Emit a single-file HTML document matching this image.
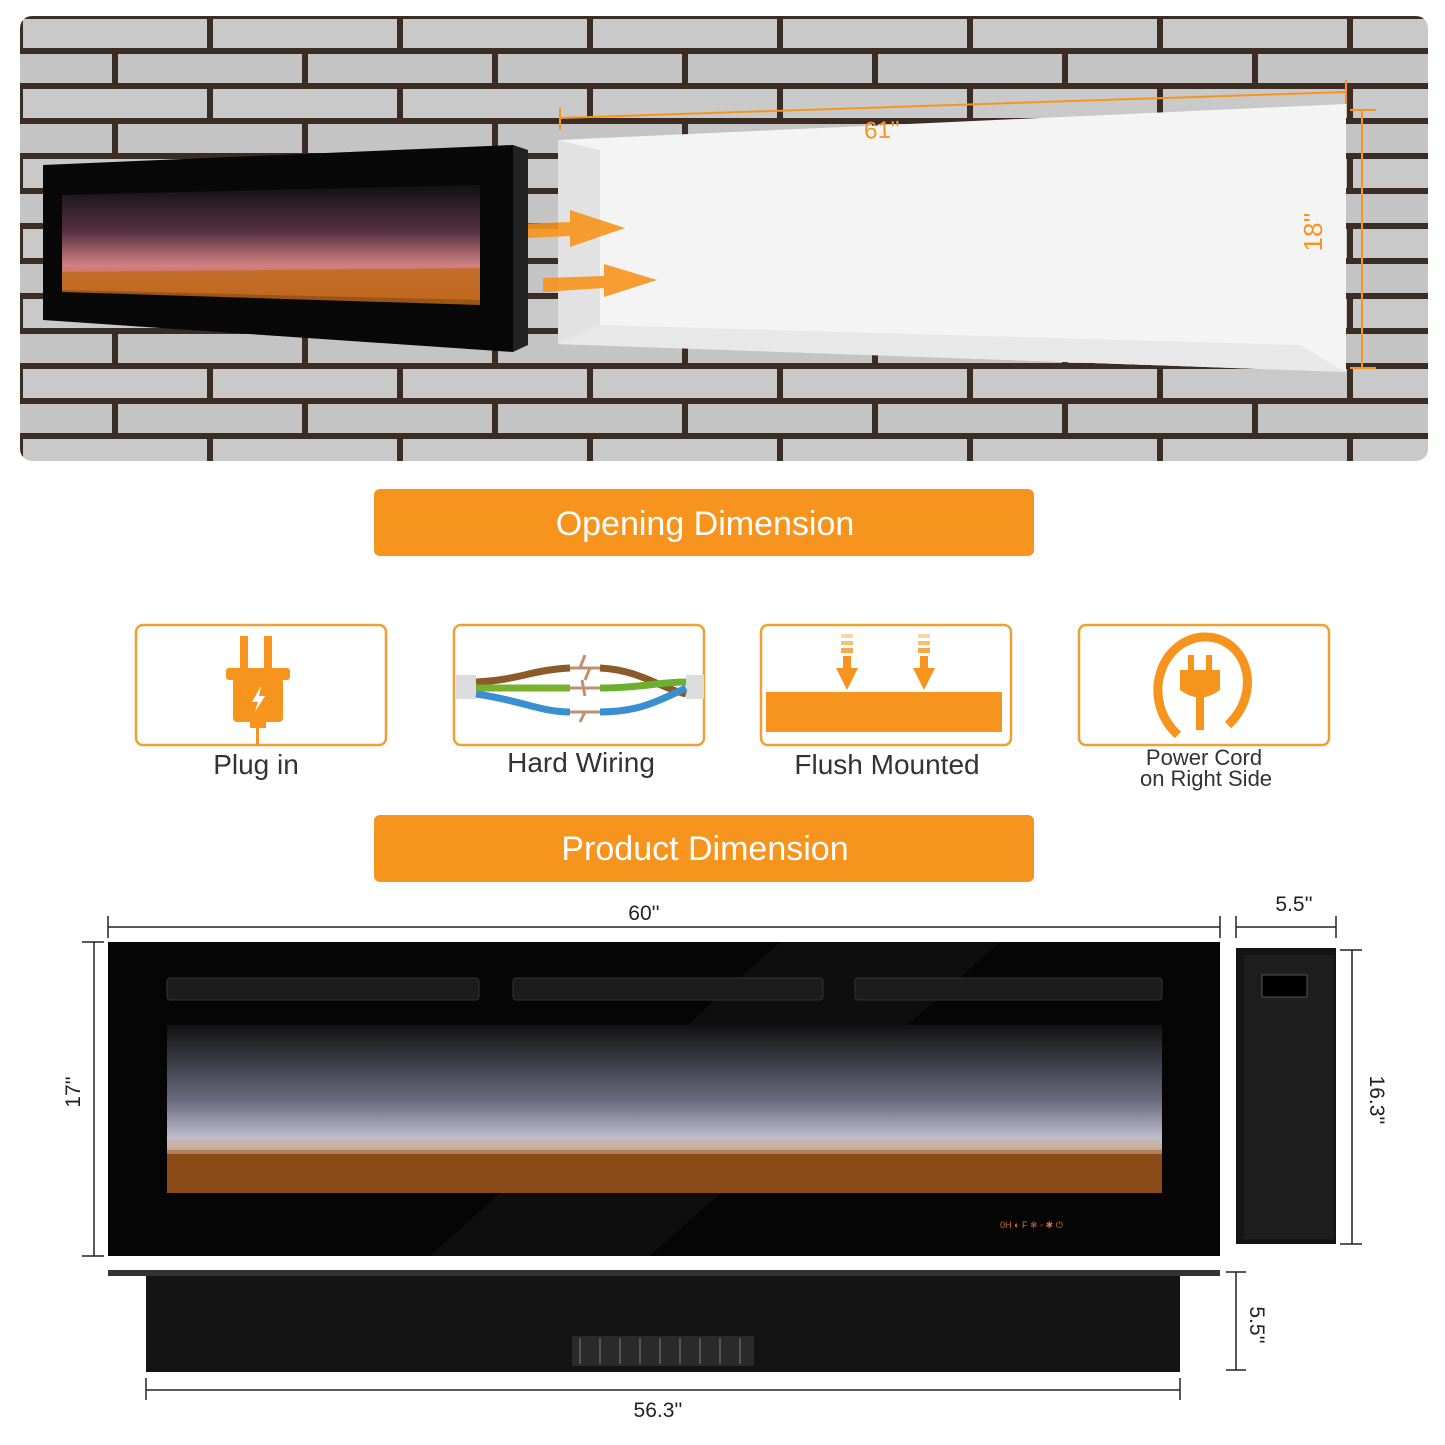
<!DOCTYPE html>
<html><head><meta charset="utf-8"><style>
html,body{margin:0;padding:0;background:#fff;}
svg{display:block;}
text{font-family:"Liberation Sans",sans-serif;}
</style></head><body>
<svg width="1445" height="1445" viewBox="0 0 1445 1445" xmlns="http://www.w3.org/2000/svg">
<defs>
<pattern id="brick" x="20" y="16" width="190" height="70" patternUnits="userSpaceOnUse">
<rect width="190" height="70" fill="#3b2d24"/>
<rect x="3" y="3" width="184" height="29" fill="#c9c9c9"/>
<rect x="-92" y="38" width="184" height="29" fill="#c4c4c4"/>
<rect x="98" y="38" width="184" height="29" fill="#c4c4c4"/>
</pattern>
<clipPath id="topclip"><rect x="20" y="16" width="1408" height="445" rx="12"/></clipPath>
<linearGradient id="flame" x1="0" y1="0" x2="0" y2="1">
<stop offset="0" stop-color="#111"/><stop offset="0.45" stop-color="#6a6a80"/><stop offset="0.7" stop-color="#c8c8d8"/><stop offset="0.82" stop-color="#b07040"/><stop offset="1" stop-color="#6b3510"/>
</linearGradient>
<linearGradient id="flame2" x1="0" y1="0" x2="0" y2="1">
<stop offset="0" stop-color="#111"/><stop offset="0.4" stop-color="#553040"/><stop offset="0.7" stop-color="#d08080"/><stop offset="1" stop-color="#c06020"/>
</linearGradient>
</defs>

<!-- Top panel -->
<g clip-path="url(#topclip)">
<rect x="20" y="16" width="1408" height="445" fill="url(#brick)"/>
</g>
<!-- opening -->
<polygon points="558,140 1346,104 1346,372 558,344" fill="#f4f4f4"/>
<polygon points="558,140 600,150 600,325 558,344" fill="#e2e2e2"/>
<polygon points="558,344 600,325 1300,345 1346,372" fill="#e8e8e8"/>
<!-- dimension lines top -->
<line x1="560" y1="118" x2="1346" y2="92" stroke="#f7941d" stroke-width="2"/>
<line x1="560" y1="108" x2="560" y2="130" stroke="#f7941d" stroke-width="2"/>
<line x1="1346" y1="80" x2="1346" y2="104" stroke="#f7941d" stroke-width="2"/>
<text x="882" y="138" font-size="24" fill="#f7941d" text-anchor="middle" transform="rotate(-2 882 130)">61''</text>
<line x1="1362" y1="110" x2="1362" y2="368" stroke="#f7941d" stroke-width="2"/>
<line x1="1350" y1="110" x2="1376" y2="110" stroke="#f7941d" stroke-width="2"/>
<line x1="1350" y1="368" x2="1376" y2="368" stroke="#f7941d" stroke-width="2"/>
<text x="1330" y="240" font-size="26" fill="#f7941d" text-anchor="middle" transform="rotate(-90 1322 240)">18''</text>
<!-- arrows -->
<g fill="#f7941d">
<polygon points="488,225 570,222 570,210 625,228 570,247 570,236 488,240" opacity="0.9"/>
<polygon points="543,278 604,276 604,264 657,280 604,297 604,288 543,292" opacity="0.9"/>
</g>
<!-- top fireplace -->
<polygon points="43,165 513,145 513,352 43,320" fill="#080808"/>
<polygon points="513,145 528,150 528,345 513,352" fill="#222"/>
<polygon points="62,195 480,185 480,300 62,290" fill="url(#flame2)"/>
<polygon points="62,272 480,268 480,305 62,292" fill="#c06a1c" opacity="0.8"/>

<!-- Banner 1 -->
<rect x="374" y="489" width="660" height="67" rx="6" fill="#f7941d"/>
<text x="705" y="535" font-size="34" fill="#fff" text-anchor="middle">Opening Dimension</text>

<!-- Icon boxes -->
<g fill="none" stroke="#f0a030" stroke-width="2.5">
<rect x="136" y="625" width="250" height="120" rx="7"/>
<rect x="454" y="625" width="250" height="120" rx="7"/>
<rect x="761" y="625" width="250" height="120" rx="7"/>
<rect x="1079" y="625" width="250" height="120" rx="7"/>
</g>
<!-- plug -->
<g fill="#f7941d">
<rect x="240" y="636" width="8" height="36"/><rect x="264" y="636" width="8" height="36"/>
<rect x="226" y="668" width="64" height="12" rx="3"/>
<rect x="233" y="678" width="50" height="44" rx="4"/>
<rect x="250" y="720" width="16" height="8"/>
<rect x="256" y="728" width="3" height="17"/>
</g>
<polygon points="261,686 252,702 258,702 255,712 265,696 259,696" fill="#fff"/>
<!-- wires -->
<rect x="456" y="675" width="20" height="24" fill="#ddd"/>
<rect x="686" y="675" width="18" height="24" fill="#ddd"/>
<path d="M476,682 C520,680 530,670 570,668" stroke="#8b5a2b" stroke-width="7" fill="none"/>
<path d="M476,688 C520,688 540,688 570,688" stroke="#7ab030" stroke-width="7" fill="none"/>
<path d="M476,694 C520,700 540,712 570,712" stroke="#3a8fd0" stroke-width="7" fill="none"/>
<path d="M600,668 C640,670 660,688 686,694" stroke="#8b5a2b" stroke-width="7" fill="none"/>
<path d="M600,688 C640,688 660,682 686,682" stroke="#6cb030" stroke-width="7" fill="none"/>
<path d="M600,712 C640,712 660,700 686,688" stroke="#3a8fd0" stroke-width="7" fill="none"/>
<g stroke="#c09070" stroke-width="3" fill="none">
<path d="M570,668 L600,668 M585,655 L580,668 M585,680 L590,668"/>
<path d="M570,688 L600,688 M582,680 L585,696"/>
<path d="M570,712 L600,712 M580,722 L585,712"/>
</g>
<!-- flush -->
<g fill="#f7941d">
<rect x="766" y="692" width="236" height="40"/>
<rect x="841" y="634" width="12" height="4" opacity="0.4"/><rect x="841" y="641" width="12" height="4" opacity="0.6"/><rect x="841" y="648" width="12" height="5" opacity="0.8"/>
<rect x="843" y="656" width="8" height="14"/><polygon points="836,668 858,668 847,690"/>
<rect x="918" y="634" width="12" height="4" opacity="0.4"/><rect x="918" y="641" width="12" height="4" opacity="0.6"/><rect x="918" y="648" width="12" height="5" opacity="0.8"/>
<rect x="920" y="656" width="8" height="14"/><polygon points="913,668 935,668 924,690"/>
</g>
<!-- power cord -->
<path d="M1178,735 C1140,700 1160,640 1203,637 C1245,635 1265,690 1228,725" stroke="#f7941d" stroke-width="9" fill="none"/>
<g fill="#f7941d">
<rect x="1188" y="655" width="6" height="18"/><rect x="1206" y="655" width="6" height="18"/>
<path d="M1180,670 L1220,670 L1220,690 Q1200,705 1180,690 Z"/>
<rect x="1196" y="695" width="8" height="35"/>
</g>
<!-- labels -->
<g font-size="28" fill="#333" text-anchor="middle">
<text x="256" y="774">Plug in</text>
<text x="581" y="772">Hard Wiring</text>
<text x="887" y="774">Flush Mounted</text>
</g>
<text x="1204" y="765" font-size="22" fill="#333" text-anchor="middle">Power Cord</text>
<text x="1206" y="786" font-size="22" fill="#333" text-anchor="middle">on Right Side</text>

<!-- Banner 2 -->
<rect x="374" y="815" width="660" height="67" rx="6" fill="#f7941d"/>
<text x="705" y="860" font-size="34" fill="#fff" text-anchor="middle">Product Dimension</text>

<!-- Bottom dimension lines -->
<g stroke="#222" stroke-width="1.5" fill="none">
<line x1="108" y1="927" x2="1220" y2="927"/><line x1="108" y1="916" x2="108" y2="938"/><line x1="1220" y1="916" x2="1220" y2="938"/>
<line x1="1236" y1="927" x2="1336" y2="927"/><line x1="1236" y1="916" x2="1236" y2="938"/><line x1="1336" y1="916" x2="1336" y2="938"/>
<line x1="94" y1="942" x2="94" y2="1256"/><line x1="82" y1="942" x2="104" y2="942"/><line x1="82" y1="1256" x2="104" y2="1256"/>
<line x1="1352" y1="950" x2="1352" y2="1244"/><line x1="1340" y1="950" x2="1362" y2="950"/><line x1="1340" y1="1244" x2="1362" y2="1244"/>
<line x1="146" y1="1390" x2="1180" y2="1390"/><line x1="146" y1="1378" x2="146" y2="1400"/><line x1="1180" y1="1378" x2="1180" y2="1400"/>
<line x1="1236" y1="1272" x2="1236" y2="1370"/><line x1="1226" y1="1272" x2="1246" y2="1272"/><line x1="1226" y1="1370" x2="1246" y2="1370"/>
</g>
<g font-size="21" fill="#222" text-anchor="middle">
<text x="644" y="920">60''</text>
<text x="1294" y="911">5.5''</text>
<text x="658" y="1417">56.3''</text>
<text x="87" y="1099" transform="rotate(-90 80 1099)">17''</text>
<text x="1370" y="1100" transform="rotate(90 1370 1100)">16.3''</text>
<text x="1250" y="1325" transform="rotate(90 1250 1325)">5.5''</text>
</g>

<!-- Main fireplace -->
<rect x="108" y="942" width="1112" height="314" fill="#050505"/>
<polygon points="780,942 1000,942 650,1256 430,1256" fill="#fff" opacity="0.04"/>
<rect x="167" y="978" width="312" height="22" rx="3" fill="#1c1c1c" stroke="#333"/>
<rect x="513" y="978" width="310" height="22" rx="3" fill="#1c1c1c" stroke="#333"/>
<rect x="855" y="978" width="307" height="22" rx="3" fill="#1c1c1c" stroke="#333"/>
<rect x="167" y="1025" width="995" height="168" fill="url(#flame)"/>
<rect x="167" y="1150" width="995" height="43" fill="#8a4a18"/>
<rect x="167" y="1140" width="995" height="14" fill="#c8a890" opacity="0.6"/>
<g font-size="9" fill="#e07020"><text x="1000" y="1228">0H ◐ F ❄ ◦ ✱ ⏻</text></g>

<!-- side view -->
<rect x="1236" y="948" width="100" height="296" fill="#151515"/>
<rect x="1244" y="955" width="90" height="284" fill="#1e1e1e"/>
<rect x="1262" y="975" width="45" height="22" fill="#000" stroke="#555"/>

<!-- bottom view -->
<rect x="108" y="1270" width="1112" height="6" fill="#333"/>
<rect x="146" y="1276" width="1034" height="96" fill="#141414"/>
<rect x="572" y="1336" width="182" height="30" fill="#2a2a2a"/>
<g stroke="#555" stroke-width="2"><line x1="580" y1="1338" x2="580" y2="1364"/><line x1="600" y1="1338" x2="600" y2="1364"/><line x1="620" y1="1338" x2="620" y2="1364"/><line x1="640" y1="1338" x2="640" y2="1364"/><line x1="660" y1="1338" x2="660" y2="1364"/><line x1="680" y1="1338" x2="680" y2="1364"/><line x1="700" y1="1338" x2="700" y2="1364"/><line x1="720" y1="1338" x2="720" y2="1364"/><line x1="740" y1="1338" x2="740" y2="1364"/></g>
</svg>
</body></html>
